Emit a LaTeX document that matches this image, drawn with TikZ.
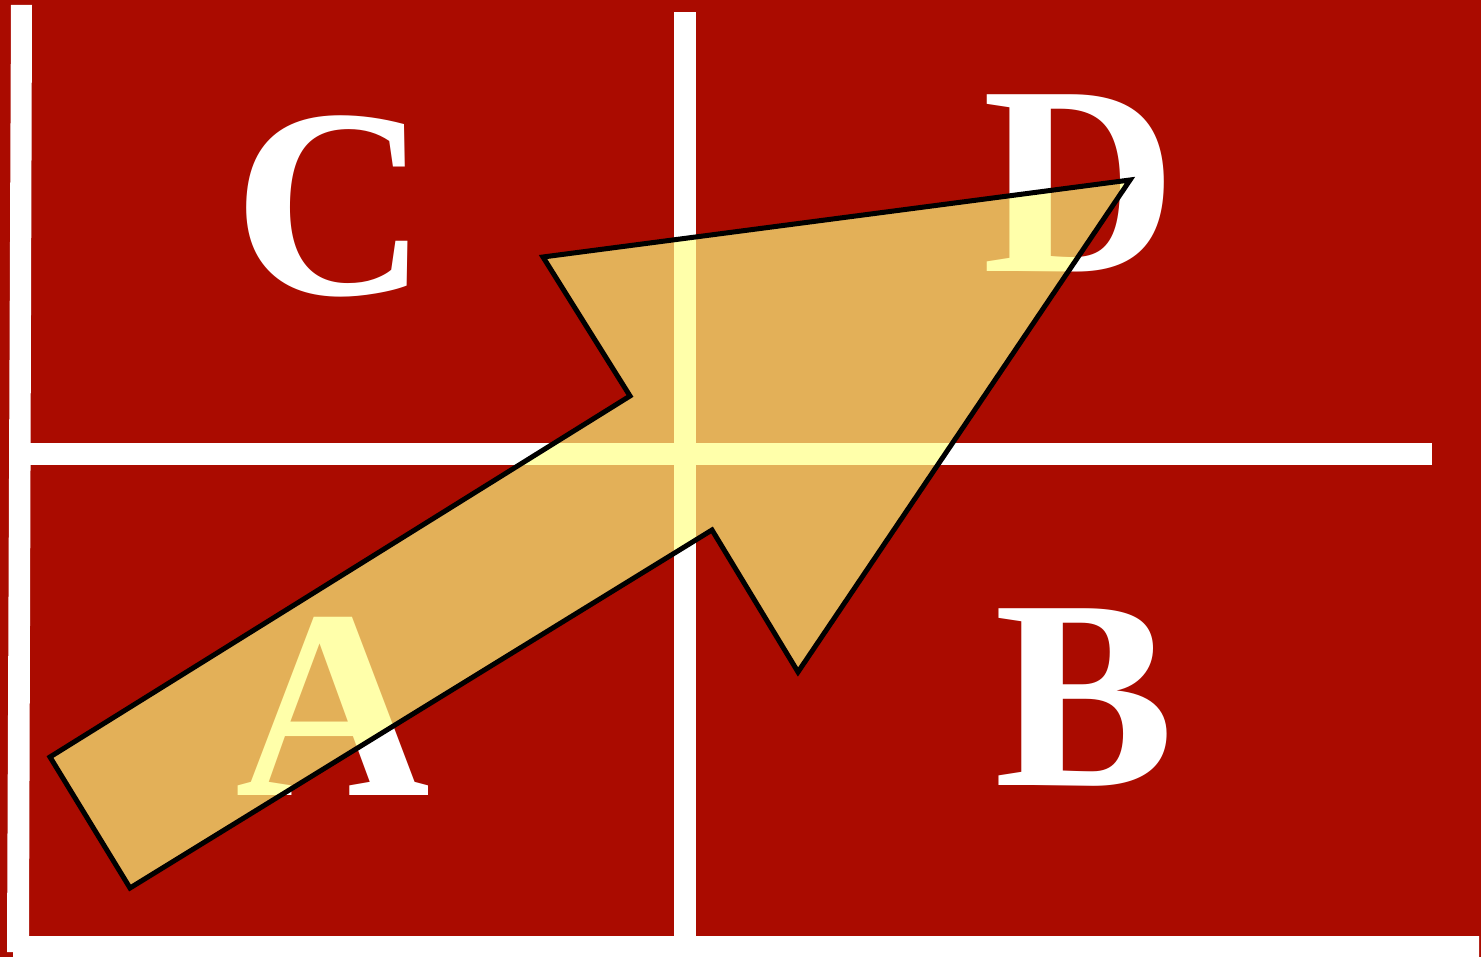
\documentclass[tikz,border=0pt]{standalone}
\usepackage{fontspec}
\setmainfont{Liberation Serif}
\definecolor{bgred}{RGB}{170,11,0}
\definecolor{arrowyel}{RGB}{255,255,130}
\begin{document}
\begin{tikzpicture}[x=1pt,y=-1pt,
  letter/.style={text=white,font=\fontsize{270}{270}\selectfont\bfseries,inner sep=0pt,anchor=base},
  bigarrow/.style={fill=arrowyel,fill opacity=0.68,draw=black,draw opacity=1,line width=5pt,line join=miter}]
\useasboundingbox (0,0) rectangle (1481,957);
\fill[bgred] (0,0) rectangle (1481,957);
% white frame lines
\fill[white] (11,5) -- (32,5) -- (29,936) -- (1479,936) -- (1479,957) -- (13,957) -- (13,952) -- (7,952) -- cycle;
\fill[white] (674,12) rectangle (696,936);
\fill[white] (30,443) rectangle (1432,465);
% letters
\node[letter] (C) at (331,295) {C};
\node[letter] (D) at (1080,272) {D};
\node[letter] (A) at (333,795) {A};
\node[letter] (B) at (1085,785) {B};
% arrow
\draw[bigarrow] (50,757) -- (630,396) -- (543,257) -- (1130,180) -- (798,672) -- (712,530) -- (130,888) -- cycle;
\end{tikzpicture}
\end{document}
